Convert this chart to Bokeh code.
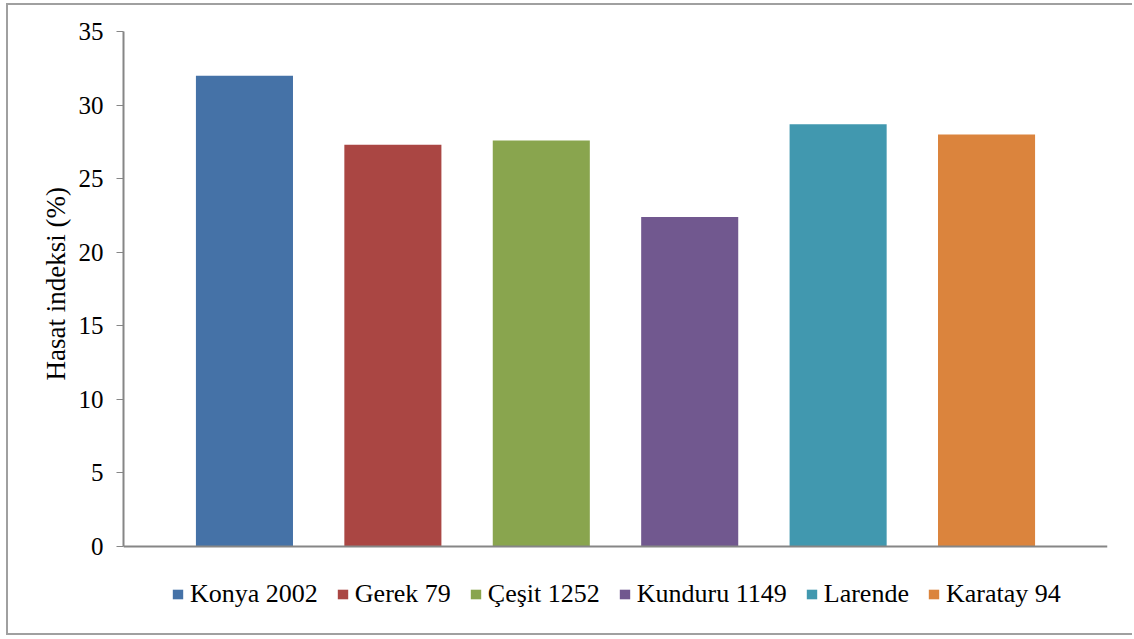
from bokeh.plotting import figure
from bokeh.models import Range1d, Legend, LegendItem, FixedTicker, ColumnDataSource, Span, Title
from bokeh.embed import file_html
from bokeh.resources import INLINE

# Harvest index of wheat varieties
varieties = ["Konya 2002", "Gerek 79", "Çeşit 1252", "Kunduru 1149", "Larende", "Karatay 94"]
harvest_index = [32.0, 27.3, 27.6, 22.4, 28.7, 28.0]
bar_colors = ["#4572A7", "#AA4643", "#89A54E", "#71588F", "#4198AF", "#DB843D"]
y_ticks = [0, 5, 10, 15, 20, 25, 30, 35]
y_label = "Hasat indeksi (%)"

FONT = "Liberation Serif"
AXIS_GREY = "#868686"
FRAME_GREY = "#a0a0a0"

positions = list(range(len(varieties)))
source = ColumnDataSource(dict(x=positions, top=harvest_index, color=bar_colors, name=varieties))

# the frame runs below zero so the legend can sit under the baseline
p = figure(
    width=1126, height=632,
    output_backend="svg", toolbar_location=None,
    x_range=Range1d(-0.815, len(varieties) - 1 + 0.815),
    y_range=Range1d(-5.71, 35),
    min_border_left=115, min_border_right=27,
    min_border_top=26, min_border_bottom=7,
    margin=(3, 0, 0, 6),
)
p.styles = {
    "border-top": f"2px solid {FRAME_GREY}",
    "border-left": f"2px solid {FRAME_GREY}",
    "border-bottom": f"2px solid {FRAME_GREY}",
}

bars = p.vbar(x="x", top="top", width=0.654, fill_color="color", line_color=None, source=source)

# category baseline at zero
p.add_layout(Span(location=0, dimension="width", line_color=AXIS_GREY, line_width=2))

p.outline_line_color = None
p.xgrid.grid_line_color = None
p.ygrid.grid_line_color = None
p.background_fill_color = "white"
p.border_fill_color = "white"
p.xaxis.visible = False

# y axis, drawn only from 0 to 35
yax = p.yaxis[0]
yax.bounds = (0, 35)
yax.ticker = FixedTicker(ticks=y_ticks)
yax.axis_line_color = AXIS_GREY
yax.axis_line_width = 2
yax.major_tick_line_color = AXIS_GREY
yax.major_tick_line_width = 1
yax.major_tick_out = 7
yax.major_tick_in = 0
yax.minor_tick_line_color = None
yax.major_label_text_font = FONT
yax.major_label_text_font_size = "25px"
yax.major_label_text_color = "black"
yax.major_label_standoff = 13

# y axis title, started from the bottom so it centres on the 0-35 span
p.add_layout(Title(
    text=y_label, align="left", offset=250,
    text_font=FONT, text_font_size="27px", text_font_style="normal", text_color="black",
), "left")

# legend under the bars
items = [LegendItem(label=name, renderers=[bars], index=i) for i, name in enumerate(varieties)]
legend = Legend(
    items=items,
    orientation="horizontal",
    location=(48, 21),
    glyph_width=13, glyph_height=12,
    label_standoff=6, spacing=18,
    padding=0, margin=0,
    border_line_color=None, background_fill_alpha=0,
    label_text_font=FONT, label_text_font_size="26px", label_text_color="black",
)
p.add_layout(legend)

open("out.html", "w").write(file_html(p, INLINE))
